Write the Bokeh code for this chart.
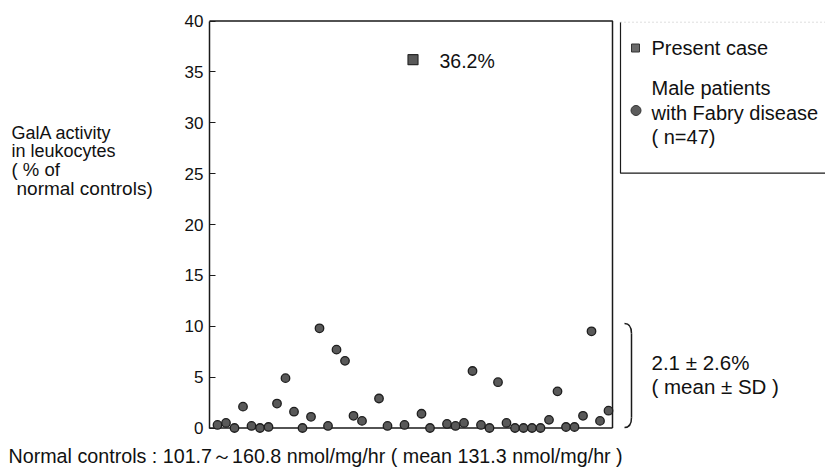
from bokeh.plotting import figure
from bokeh.models import Range1d, FixedTicker, Label
from bokeh.embed import file_html
from bokeh.resources import INLINE

# ---- data ----
patient_slot = [0, 1, 2, 3, 4, 5, 6, 7, 8, 9, 10, 11, 12, 13, 14, 15, 16, 17,
                19, 20, 22, 24, 25,
                27, 28, 29, 30, 31, 32, 33, 34, 35, 36, 37, 38, 39, 40, 41, 42, 43, 44, 45, 46]
patient_activity = [0.3, 0.5, 0.0, 2.1, 0.2, 0.0, 0.1, 2.4, 4.9, 1.6,
                    0.0, 1.1, 9.8, 0.2, 7.7, 6.6, 1.2, 0.7,
                    2.9, 0.2, 0.3, 1.4, 0.0,
                    0.4, 0.2, 0.5, 5.6, 0.3, 0.0, 4.5, 0.5, 0.0, 0.0,
                    0.0, 0.0, 0.8, 3.6, 0.1, 0.1, 1.2, 9.5, 0.7, 1.7]
present_slot = [23]
present_activity = [36.2]
y_ticks = [0, 5, 10, 15, 20, 25, 30, 35, 40]

FONT = "Liberation Sans"
INK = "#1a1a1a"

# page pixel -> data helpers (layout only)
def fx(px):
    return (px - 217.0) / 8.5

def fy(py):
    return (427.5 - py) / (407.0 / 40.0)

W, H = 825, 471
p = figure(width=W, height=H, output_backend="svg", toolbar_location=None,
           x_range=Range1d(fx(0), fx(W)), y_range=Range1d(fy(H), fy(0)),
           x_axis_type=None, min_border=0)
p.outline_line_color = None
p.grid.visible = False
p.background_fill_color = "white"
p.border_fill_color = "white"

ax = p.yaxis[0]
ax.fixed_location = fx(209)
ax.ticker = FixedTicker(ticks=y_ticks)
ax.bounds = (0, 40)
ax.major_tick_in = 6
ax.major_tick_out = 0
ax.minor_tick_line_color = None
ax.axis_line_width = 1.5
ax.axis_line_color = INK
ax.major_tick_line_color = INK
ax.major_tick_line_width = 1.2
ax.major_label_text_font = FONT
ax.major_label_text_font_size = "17px"
ax.major_label_text_color = "#111111"
ax.major_label_standoff = 6

# plot box (top, right, bottom)
xl, xr = fx(209), fx(612)
p.line(x=[xl, xr, xr], y=[40, 40, 0], line_color=INK, line_width=1.5)
p.line(x=[xl, xr], y=[0, 0], line_color=INK, line_width=1.5)

# legend box
p.line(x=[fx(620), fx(620), fx(830)], y=[fy(21.7), fy(172.7), fy(172.7)], line_color=INK, line_width=1.2)
p.line(x=[fx(620), fx(830)], y=[fy(21.7), fy(21.7)], line_color="#bbbbbb", line_width=1, line_dash="1 3")

# bracket
p.quadratic(x0=[fx(624)], y0=[fy(323)], x1=[fx(631)], y1=[fy(333)], cx=[fx(631)], cy=[fy(323)],
            line_color=INK, line_width=1.5)
p.segment(x0=[fx(631)], y0=[fy(333)], x1=[fx(631)], y1=[fy(417)], line_color=INK, line_width=1.5)
p.quadratic(x0=[fx(631)], y0=[fy(417)], x1=[fx(624)], y1=[fy(427)], cx=[fx(631)], cy=[fy(427)],
            line_color=INK, line_width=1.5)

# data marks
p.scatter(x=patient_slot, y=patient_activity, marker="circle", size=8.5,
          fill_color="#595959", line_color="#1e1e1e", line_width=1.3)
p.scatter(x=present_slot, y=present_activity, marker="square", size=10,
          fill_color="#595959", line_color="#2a2a2a", line_width=1.2)

# legend markers
p.scatter(x=[fx(635)], y=[fy(47.5)], marker="square", size=8, fill_color="#6a6a6a", line_color="#333333")
p.scatter(x=[fx(635.5)], y=[fy(110)], marker="circle", size=10, fill_color="#5c5c5c", line_color="#333333")

def lab(text, px, py, size="20px", align="left"):
    p.add_layout(Label(x=fx(px), y=fy(py), text=text, text_font=FONT, text_font_size=size,
                       text_color="#111111", text_baseline="middle", text_align=align))

lab("36.2%", 439, 60, size="19.5px")
lab("Present case", 651, 47.5)
lab("Male patients", 651, 87.5)
lab("with Fabry disease", 651, 112)
lab("( n=47)", 651, 136.5)
lab("2.1 \u00b1 2.6%", 651, 362, size="20.5px")
lab("( mean \u00b1 SD )", 651, 386, size="20.5px")
lab("GalA activity", 11, 132, size="18px")
lab("in leukocytes", 11, 150.5, size="18px")
lab("( % of", 11, 169, size="18.5px")
lab("normal controls)", 16, 187.5, size="19px")
lab("Normal controls : 101.7\uff5e160.8 nmol/mg/hr ( mean 131.3 nmol/mg/hr )", 8, 455, size="19.7px")

open("out.html", "w").write(file_html(p, INLINE))
